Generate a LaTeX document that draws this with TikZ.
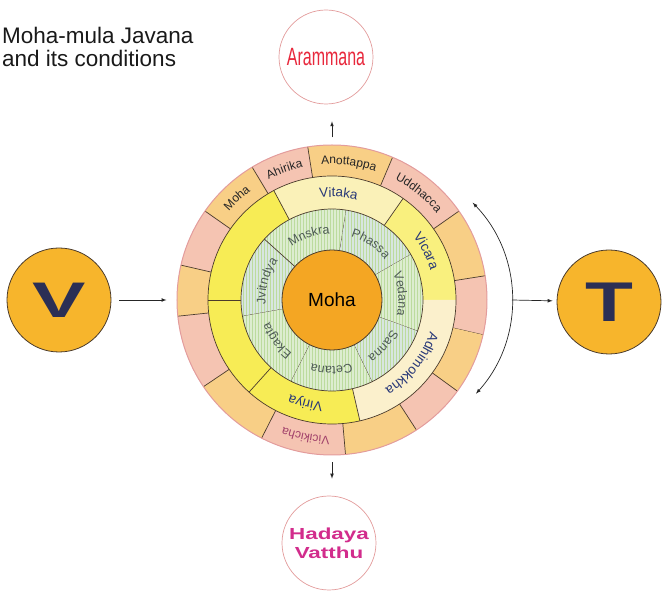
\documentclass[tikz,border=0pt]{standalone}
\usepackage{fontspec}
\usepackage{graphicx}
\setmainfont{Liberation Sans}
\newfontfamily\narrowfont[FakeStretch=0.64]{Liberation Sans}
\newfontfamily\widefont[FakeStretch=1.4]{Liberation Sans}
\usetikzlibrary{positioning, calc, arrows, decorations.text, patterns}
\definecolor{ringpink}{HTML}{F5C4B2}
\definecolor{ringorange}{HTML}{F8CF86}
\definecolor{ringyellow}{HTML}{F7EC55}
\definecolor{ringmid}{HTML}{F9F07E}
\definecolor{ringpale}{HTML}{FAF1B8}
\definecolor{ringcream}{HTML}{FBF0CC}
\definecolor{ringgreen}{HTML}{DDEDD0}
\definecolor{ringblue}{HTML}{D8E6E0}
\definecolor{stripe}{HTML}{BCDB9E}
\definecolor{gold}{HTML}{F7B52C}
\definecolor{mohaorange}{HTML}{F4A623}
\definecolor{edge}{HTML}{4B3B2B}
\definecolor{rim}{HTML}{E39C9C}
\definecolor{navy}{HTML}{2B2F55}
\definecolor{bluetext}{HTML}{283878}
\definecolor{graytext}{HTML}{4E5B55}
\definecolor{vicred}{HTML}{A0406A}
\definecolor{aramred}{HTML}{E8283C}
\definecolor{hadayapink}{HTML}{D22C8C}

\tikzset{
  divider/.style={draw=edge, line width=0.7pt},
  bigletter/.style={circle, draw=edge, fill=gold, line width=0.8pt, minimum size=104pt, inner sep=0pt, text=navy},
  basecircle/.style={circle, draw=rim, line width=0.7pt, fill=white, minimum size=94pt, inner sep=0pt},
  ringtext/.style={decorate, decoration={text along path, text align=center}},
  link/.style={-latex, line width=0.7pt, draw=black!85},
}

\begin{document}
\begin{tikzpicture}[x=1pt, y=1pt]
\useasboundingbox (-332,-294) rectangle (330,300);

% outer ring
\foreach \a/\b/\col in {-13/9/ringpink, 9/35/ringorange, 35/67/ringpink, 67/99/ringorange, 99/121/ringpink, 121/145/ringorange, 145/167/ringpink, 167/186/ringorange, 186/214/ringpink, 214/243/ringorange, 243/275/ringpink, 275/303/ringorange, 303/324/ringpink, 324/347/ringorange}
{
  \fill[\col] (\a:124pt) arc[start angle=\a, end angle=\b, radius=124pt] -- (\b:155pt) arc[start angle=\b, end angle=\a, radius=155pt] -- cycle;
  \draw[divider] (\a:124pt) -- (\a:155pt);
}

% yellow ring
\foreach \a/\b/\col in {0/55/ringmid, 55/118/ringpale, 118/180/ringyellow, 180/228/ringyellow, 228/283/ringyellow, 283/360/ringcream}
{
  \fill[\col] (\a:91pt) arc[start angle=\a, end angle=\b, radius=91pt] -- (\b:124pt) arc[start angle=\b, end angle=\a, radius=124pt] -- cycle;
  \draw[divider] (\a:91pt) -- (\a:124pt);
}

% green ring
\foreach \a/\b/\col in {81/138/ringgreen, 30/81/ringblue, -20/30/ringgreen, -64/-20/ringblue, -117/-64/ringgreen, -170/-117/ringgreen, 138/190/ringblue}
{
  \path[preaction={fill=\col}, pattern=vertical lines, pattern color=stripe] (\a:50pt) arc[start angle=\a, end angle=\b, radius=50pt] -- (\b:91pt) arc[start angle=\b, end angle=\a, radius=91pt] -- cycle;
  \draw[divider] (\a:50pt) -- (\a:91pt);
}

\foreach \r in {91,124}
  \draw[divider] (0,0) circle[radius=\r pt];

\node[circle, draw=rim, line width=1pt, minimum size=310pt, inner sep=0pt] (wheel) at (0,0) {};
\node[circle, draw=edge, line width=0.8pt, fill=mohaorange, minimum size=100pt, inner sep=0pt, font=\fontsize{19}{19}\selectfont] (moha) at (0,0) {Moha};

% ring labels
\begin{scope}
\fontsize{12}{14}\selectfont
\foreach \a/\b/\lbl in {145/121/Moha, 121/99/Ahirika, 99/67/Anottappa, 67/35/Uddhacca}
  \path[ringtext, decoration={text/.expanded=\lbl, text color=black!85}] (\a:136pt) arc[start angle=\a, end angle=\b, radius=136pt];
\path[ringtext, decoration={text=Vicikicha, text color=vicred}] (-85:136pt) arc[start angle=-85, end angle=-117, radius=136pt];
\end{scope}

\begin{scope}
\fontsize{13.5}{15}\selectfont
\foreach \a/\b/\lbl in {118/55/Vitaka, 55/0/Vicara, 0/-77/Adhimokkha, -77/-132/Viriya}
  \path[ringtext, decoration={text/.expanded=\lbl, text color=bluetext}] (\a:103pt) arc[start angle=\a, end angle=\b, radius=103pt];
\end{scope}

\begin{scope}
\fontsize{12.5}{14}\selectfont
\foreach \a/\b/\lbl in {138/81/Mnskra, 81/30/Phassa, 30/-20/Vedana, -20/-64/Sanna, -64/-117/Cetana, -117/-170/Ekagta, 190/138/Jvitndya}
  \path[ringtext, decoration={text/.expanded=\lbl, text color=graytext}] (\a:66.5pt) arc[start angle=\a, end angle=\b, radius=66.5pt];
\end{scope}

% outside nodes
\node[anchor=north west, align=left, inner sep=0pt, font=\fontsize{22.5}{23}\selectfont, text=black!90] (title) at (-330,273) {Moha-mula Javana\\and its conditions};
\node[basecircle, font=\narrowfont\fontsize{25}{25}\selectfont, text=aramred] (arammana) at (-6,243) {Arammana};
\node[basecircle, align=center, font=\widefont\bfseries\fontsize{16}{19}\selectfont, text=hadayapink] (hadaya) at (-3,-243) {Hadaya\\Vatthu};
\node[bigletter, font=\bfseries\fontsize{50}{50}\selectfont] (v) at (-273,0) {\scalebox{1.6}[1]{V}};
\node[bigletter, font=\bfseries\fontsize{56}{56}\selectfont] (t) at (277,-2) {\scalebox{1.4}[1]{T}};

% connectors
\coordinate (arctop) at ([shift={(44:140pt)}]40,0);
\coordinate (arcmid) at (180,0);
\draw[link, latex-latex] (arctop) arc[start angle=44, end angle=-42, radius=140pt];
\draw[link, shorten >=4pt] (arcmid) -- (t);
\draw[link, shorten <=8pt, shorten >=10pt] (v) -- (wheel);
\draw[link, shorten <=7pt, shorten >=17pt] (wheel.north) -- (wheel.north |- arammana.south);
\draw[link, shorten <=7pt, shorten >=17pt] (wheel.south) -- (wheel.south |- hadaya.north);
\end{tikzpicture}
\end{document}
